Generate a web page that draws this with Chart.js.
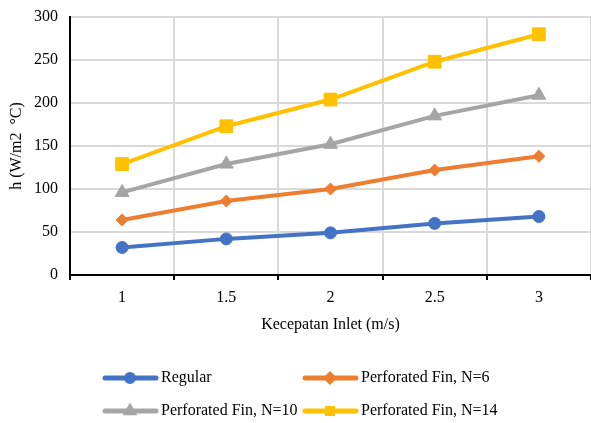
<!DOCTYPE html>
<html>
<head>
<meta charset="utf-8">
<script src="https://cdn.jsdelivr.net/npm/chart.js@4.4.0/dist/chart.umd.min.js"></script>
<style>
  html, body { margin: 0; padding: 0; background: #fff; }
  #wrap { width: 591px; height: 423px; }
</style>
</head>
<body>
<div id="wrap"><canvas id="hChart" width="591" height="423"></canvas></div>
<script>
// data
const velocities = ['1', '1.5', '2', '2.5', '3'];
const regular = [32, 42, 49, 60, 68];
const finN6 = [64, 86, 100, 122, 138];
const finN10 = [96, 129, 152, 185, 209];
const finN14 = [129, 173, 204, 248, 280];
const yTicks = [0, 50, 100, 150, 200, 250, 300];

const serif = 'Liberation Serif';

function series(label, data, color, style, radius) {
  return {
    label: label,
    data: data,
    borderColor: color,
    backgroundColor: color,
    borderWidth: 4,
    pointStyle: style,
    pointRadius: radius,
    pointHoverRadius: radius,
    pointBorderWidth: 1,
    tension: 0
  };
}

// legend in two aligned columns like the original
const gridLegend = {
  id: 'gridLegend',
  afterDraw(chart) {
    const c = chart.ctx;
    const colX = [103, 303];
    const rowY = [chart.height - 45, chart.height - 12];
    chart.data.datasets.forEach((ds, i) => {
      const x = colX[i % 2];
      const y = rowY[Math.floor(i / 2)];
      c.save();
      c.strokeStyle = ds.borderColor;
      c.fillStyle = ds.borderColor;
      c.lineWidth = 5;
      c.lineCap = 'round';
      c.beginPath();
      c.moveTo(x + 2, y);
      c.lineTo(x + 53, y);
      c.stroke();
      Chart.helpers.drawPoint(c, { pointStyle: ds.pointStyle, radius: 3.5, borderWidth: 1, rotation: 0 }, x + 27, y);
      c.fillStyle = '#000';
      c.font = '16px "' + serif + '"';
      c.textAlign = 'left';
      c.textBaseline = 'middle';
      c.fillText(ds.label, x + 58, y);
      c.restore();
    });
  }
};

const ctx = document.getElementById('hChart').getContext('2d');
const hChart = new Chart(ctx, {
  type: 'line',
  data: {
    labels: velocities,
    datasets: [
      series('Regular', regular, '#4472C4', 'circle', 6),
      series('Perforated Fin, N=6', finN6, '#ED7D31', 'rectRot', 6),
      series('Perforated Fin, N=10', finN10, '#A5A5A5', 'triangle', 8),
      series('Perforated Fin, N=14', finN14, '#FFC000', 'rect', 9)
    ]
  },
  plugins: [gridLegend],
  options: {
    responsive: false,
    animation: false,
    layout: { autoPadding: false, padding: { top: 17, right: 0, bottom: 85, left: 0 } },
    plugins: {
      legend: { display: false },
      tooltip: { enabled: false }
    },
    scales: {
      x: {
        offset: true,
        afterFit: s => { s.height = 63; },
        border: { color: '#000', width: 2 },
        grid: {
          offset: true,
          color: c => c.index === velocities.length ? 'rgba(0,0,0,0)' : '#d9d9d9',
          lineWidth: 2,
          tickColor: '#000',
          tickLength: 5,
          tickWidth: 2
        },
        ticks: { color: '#000', padding: 8, font: { family: serif, size: 16 } },
        title: {
          display: true,
          text: 'Kecepatan Inlet (m/s)',
          color: '#000',
          padding: { top: 4, bottom: 4 },
          font: { family: serif, size: 16 }
        }
      },
      y: {
        min: 0,
        max: 300,
        afterFit: s => { s.width = 70; s.paddingTop = 0; s.paddingBottom = 0; },
        afterBuildTicks: s => { s.ticks = yTicks.map(v => ({ value: v })); },
        border: { color: '#000', width: 2 },
        grid: { color: '#d9d9d9', lineWidth: 2, drawTicks: false },
        ticks: { color: '#000', padding: 12, font: { family: serif, size: 16 } },
        title: {
          display: true,
          text: 'h (W/m2  \u00B0C)',
          color: '#000',
          padding: { top: 7, bottom: 4 },
          font: { family: serif, size: 16 }
        }
      }
    }
  }
});
</script>
</body>
</html>
